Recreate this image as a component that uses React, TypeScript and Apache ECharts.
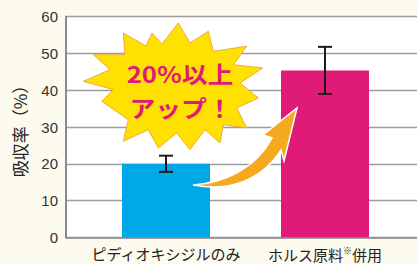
import React, { useEffect, useRef } from "react";
import * as echarts from "echarts";

const categories = ["ピディオキシジルのみ", "ホルス原料※併用"];
const values = [20, 45.4];
const errors = [2.2, 6.4];
const yTicks = { min: 0, max: 60, interval: 10 };
const barColors = ["#00A8E8", "#E01A77"];
const badgeText = ["20%以上", "アップ！"];
const yName = "吸収率（%）";

const ARROW_D =
  "M193,185 C222,183 255,170 272,138 L263,135 L297,108 L284,161 L281,150 C262,180 230,192 193,185 Z";

const STAR: number[][] = [
  [178.3, 23], [190, 43], [208.3, 31.3], [213.3, 51.3], [246.7, 46.3], [233.3, 64.7],
  [262.7, 68], [240, 83], [258.3, 98], [236.7, 108], [246.7, 128], [223.3, 124.7],
  [220, 143], [205, 129.7], [190, 149.7], [176.7, 133], [158.3, 148], [148.3, 129.7],
  [123.3, 141.3], [128.3, 119.7], [101.7, 101.3], [113.3, 89.7], [83.3, 81.3], [110, 69.7],
  [93.3, 54.7], [125, 54.7], [123.3, 33], [146, 46], [152, 33], [162, 44],
];

let registered = false;

export default function App() {
  const ref = useRef<HTMLDivElement>(null);
  useEffect(() => {
    if (!ref.current) return;
    if (!registered) {
      echarts.graphic.registerShape("logo", echarts.graphic.extendPath(ARROW_D, {}) as any);
      registered = true;
    }
    const chart = echarts.init(ref.current, null, { renderer: "svg" });
    const errStyle = { stroke: "#231815", lineWidth: 2 };
    const badgeStyle = {
      fontFamily: "Noto Sans CJK JP", fontWeight: "bold", fontSize: 23, lineHeight: 24,
      fill: "#E01A77", align: "center", verticalAlign: "middle",
    };
    chart.setOption({
      animation: false,
      backgroundColor: "#FDFBEE",
      grid: [
        { left: 66, right: 0, top: 16.7, bottom: 26.7, show: true, backgroundColor: "#ffffff", borderWidth: 0 },
        { left: 86.5, right: 12.5, top: 16.7, bottom: 26.7 },
      ],
      xAxis: [
        {
          type: "category", gridIndex: 0, data: ["a", "b"],
          axisLine: { show: true, lineStyle: { color: "#8a8a8a", width: 1.5 } },
          axisTick: { show: false }, axisLabel: { show: false }, splitLine: { show: false },
        },
        {
          type: "category", gridIndex: 1, data: categories,
          axisLine: { show: false }, axisTick: { show: false },
          axisLabel: {
            interval: 0,
            margin: 9,
            fontFamily: "Noto Sans CJK JP",
            fontSize: 15,
            color: "#222",
            formatter: (v: string) => v.split("※").join("{s|※}"),
            rich: { s: { fontSize: 9, color: "#222", fontFamily: "Noto Sans CJK JP", padding: [0, 0, 7, 0] } },
          },
        },
      ],
      yAxis: [
        {
          type: "value", gridIndex: 0, min: yTicks.min, max: yTicks.max, interval: yTicks.interval,
          name: yName, nameLocation: "middle", nameRotate: 90, nameGap: 38,
          nameTextStyle: { fontFamily: "Noto Sans CJK JP", fontSize: 17, color: "#222" },
          axisLine: { show: true, lineStyle: { color: "#8a8a8a", width: 2 } },
          axisTick: { show: false },
          axisLabel: { margin: 8, fontFamily: "Liberation Sans", fontSize: 15, color: "#333" },
          splitLine: { show: true, lineStyle: { color: "#9c9c9c", width: 1.3 } },
        },
        {
          type: "value", gridIndex: 1, min: yTicks.min, max: yTicks.max, interval: yTicks.interval,
          show: false, splitLine: { show: false },
        },
      ],
      series: [
        {
          type: "bar", xAxisIndex: 1, yAxisIndex: 1, barWidth: 88,
          data: values.map((v, i) => ({ value: v, itemStyle: { color: barColors[i] } })),
        },
        {
          type: "custom", xAxisIndex: 1, yAxisIndex: 1, z: 5,
          data: values.map((v, i) => [i, v - errors[i], v + errors[i]]),
          renderItem: (_p: any, api: any) => {
            const x = api.value(0);
            const lo = api.coord([x, api.value(1)]);
            const hi = api.coord([x, api.value(2)]);
            const h = 7;
            return {
              type: "group",
              children: [
                { type: "line", shape: { x1: hi[0], y1: hi[1], x2: lo[0], y2: lo[1] }, style: errStyle },
                { type: "line", shape: { x1: hi[0] - h, y1: hi[1], x2: hi[0] + h, y2: hi[1] }, style: errStyle },
                { type: "line", shape: { x1: lo[0] - h, y1: lo[1], x2: lo[0] + h, y2: lo[1] }, style: errStyle },
              ],
            };
          },
        },
      ],
      graphic: [
        {
          type: "polygon", z: 50,
          shape: { points: STAR },
          style: { fill: "#FFE100", stroke: "#F2A93B", lineWidth: 1 },
        },
        { type: "text", z: 51, x: 180, y: 73.5, scaleX: 1.12, style: { ...badgeStyle, text: badgeText[0] } },
        { type: "text", z: 51, x: 181, y: 107.5, scaleX: 1.12, style: { ...badgeStyle, text: badgeText[1] } },
        {
          type: "logo", z: 100, x: 0, y: 0, scaleX: 1, scaleY: 1,
          style: { fill: "#F5A91E", stroke: "#ffffff", lineWidth: 1.5 },
        },
      ],
    });
    return () => chart.dispose();
  }, []);
  return <div ref={ref} style={{ position: "fixed", left: 0, top: 0, width: 417, height: 264 }} />;
}
